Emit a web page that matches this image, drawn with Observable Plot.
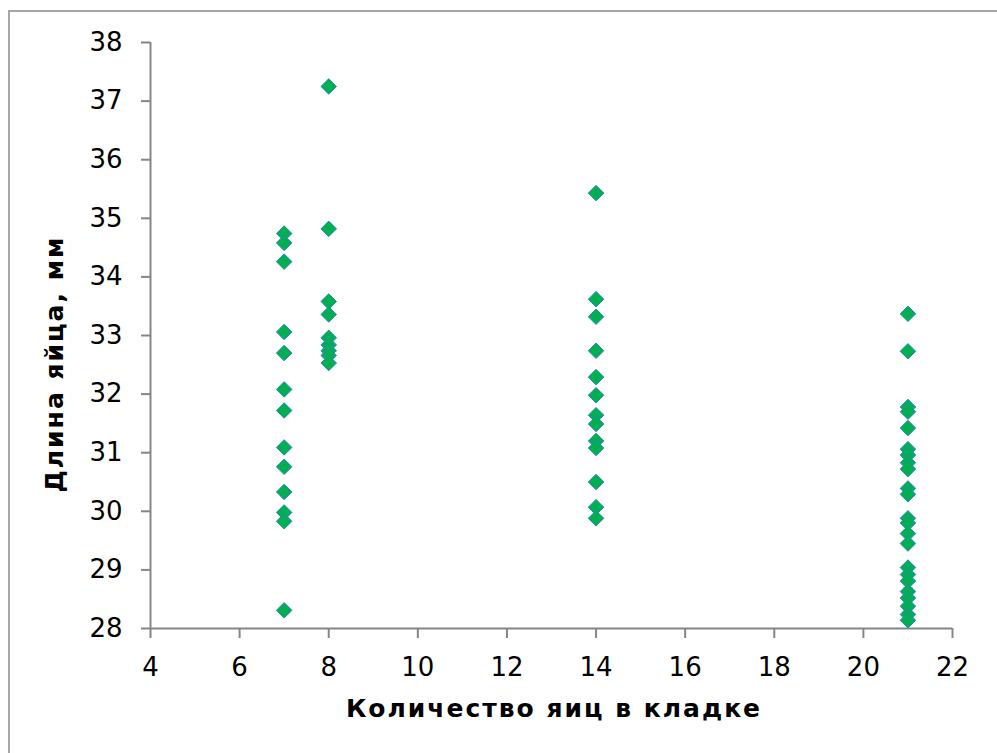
<!DOCTYPE html>
<html>
<head>
<meta charset="utf-8">
<script src="https://cdn.jsdelivr.net/npm/d3@7"></script>
<script src="https://cdn.jsdelivr.net/npm/@observablehq/plot@0.6"></script>
<style>
  html, body { margin: 0; padding: 0; background: #fff; }
  #wrap { position: relative; width: 997px; height: 753px; overflow: hidden; }
  #frame { position: absolute; left: 8px; top: 10px; width: 1200px; height: 1000px;
           border-left: 2px solid #a6a6a6; border-top: 2px solid #a6a6a6; pointer-events: none; }
  svg { font-family: "DejaVu Sans", Verdana, sans-serif; }
</style>
</head>
<body>
<div id="wrap"><div id="chart"></div><div id="frame"></div></div>
<script>
// Data
const clutchSizes = [7, 8, 14, 21];
const lengths7  = [34.74, 34.58, 34.26, 33.06, 32.70, 32.08, 31.72, 31.09, 30.76, 30.33, 29.98, 29.83, 28.31];
const lengths8  = [37.25, 34.82, 33.58, 33.36, 32.96, 32.84, 32.74, 32.66, 32.53];
const lengths14 = [35.43, 33.62, 33.32, 32.74, 32.29, 31.98, 31.64, 31.49, 31.20, 31.08, 30.50, 30.07, 29.88];
const lengths21 = [33.37, 32.73, 31.78, 31.70, 31.42, 31.06, 30.96, 30.83, 30.72, 30.39, 30.29, 29.88, 29.80,
                   29.62, 29.45, 29.04, 28.92, 28.81, 28.63, 28.52, 28.38, 28.24, 28.14];
const xTicks = [4, 6, 8, 10, 12, 14, 16, 18, 20, 22];
const yTicks = [28, 29, 30, 31, 32, 33, 34, 35, 36, 37, 38];
const xLabel = "Количество яиц в кладке";
const yLabel = "Длина яйца, мм";

const groups = [lengths7, lengths8, lengths14, lengths21];
const data = groups.flatMap((arr, i) => arr.map(v => ({clutch: clutchSizes[i], length: v})));

const axisColor = "#868686";
const chart = Plot.plot({
  width: 997,
  height: 753,
  marginLeft: 150,
  marginRight: 45,
  marginTop: 42,
  marginBottom: 125,
  style: {fontFamily: "'DejaVu Sans', Verdana, sans-serif", fontSize: "26px", color: "#000", background: "transparent"},
  x: {domain: [4, 22], ticks: xTicks},
  y: {domain: [28, 38], ticks: yTicks},
  marks: [
    Plot.ruleY([28], {stroke: axisColor, strokeWidth: 2}),
    Plot.ruleX([4], {stroke: axisColor, strokeWidth: 2}),
    Plot.axisX({ticks: xTicks, tickSize: 10, tickPadding: 19, stroke: axisColor, strokeWidth: 2, fill: "#000",
                strokeOpacity: 1, label: null, fontSize: 26}),
    Plot.axisY({ticks: yTicks, tickSize: 9, tickPadding: 19, stroke: axisColor, strokeWidth: 2, fill: "#000",
                strokeOpacity: 1, label: null, fontSize: 26}),
    Plot.dot(data, {x: "clutch", y: "length", symbol: "diamond2", r: 7,
                    fill: "#00b050", stroke: "#2e86c1", strokeWidth: 1, fillOpacity: 1})
  ]
});
chart.style.position = "absolute";
chart.style.left = "0px";
chart.style.top = "0px";

// Axis titles as SVG text
const ns = "http://www.w3.org/2000/svg";
const xt = document.createElementNS(ns, "text");
xt.setAttribute("x", 554); xt.setAttribute("y", 717);
xt.setAttribute("text-anchor", "middle");
xt.setAttribute("font-weight", "bold");
xt.setAttribute("font-size", "25");
xt.setAttribute("letter-spacing", "2");
xt.textContent = xLabel;
chart.appendChild(xt);
const yt = document.createElementNS(ns, "text");
yt.setAttribute("transform", "translate(63,364) rotate(-90)");
yt.setAttribute("text-anchor", "middle");
yt.setAttribute("font-weight", "bold");
yt.setAttribute("font-size", "25");
yt.setAttribute("letter-spacing", "2");
yt.textContent = yLabel;
chart.appendChild(yt);

document.getElementById("chart").appendChild(chart);
</script>
</body>
</html>
